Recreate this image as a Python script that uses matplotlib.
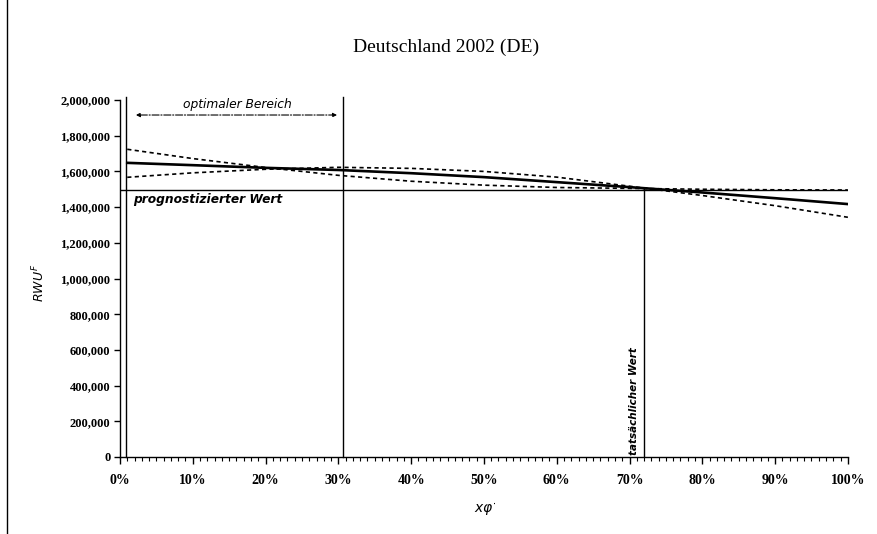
import matplotlib
matplotlib.use("Agg")
import matplotlib.pyplot as plt
from matplotlib.ticker import FuncFormatter, MultipleLocator

# Werte (x in %, y in Einheiten)
anteil = [1, 10, 20, 30, 40, 50, 60, 70, 80, 90, 100]
rwu_mitte = [1648000, 1635000, 1620000, 1608000, 1590000, 1568000, 1540000, 1512000, 1482000, 1450000, 1417000]
rwu_konvex = [1724000, 1672000, 1622000, 1578000, 1545000, 1523000, 1510000, 1505000, 1500000, 1497000, 1496000]
rwu_konkav = [1567000, 1592000, 1612000, 1623000, 1617000, 1600000, 1568000, 1517000, 1465000, 1408000, 1343000]

prognose = 1495000
optimal_von = 0.8
optimal_bis = 30.7
tatsaechlich = 72.0
tatsaechlich_wert = 1505000

fig = plt.figure(figsize=(8.77, 5.34), dpi=100)
ax = fig.add_axes([0.1368, 0.1442, 0.8300, 0.6685])

ax.plot(anteil, rwu_mitte, color="black", lw=1.9)
ax.plot(anteil, rwu_konvex, color="black", lw=1.2, linestyle=(0, (2.5, 2)))
ax.plot(anteil, rwu_konkav, color="black", lw=1.2, linestyle=(0, (2.5, 2)))

# prognostizierter Wert
ax.axhline(prognose, color="black", lw=1)
ax.text(1.8, 1445000, "prognostizierter Wert", fontsize=8.8, style="italic",
        fontweight="bold", ha="left", va="center")

# optimaler Bereich
ax.plot([optimal_von, optimal_von], [0, 2015000], color="black", lw=1, clip_on=False)
ax.plot([optimal_bis, optimal_bis], [0, 2015000], color="black", lw=1, clip_on=False)
ax.annotate("", xy=(1.8, 1916000), xytext=(30.2, 1916000),
            arrowprops=dict(arrowstyle="<|-|>", color="black", lw=0.8,
                            linestyle="-.", mutation_scale=6))
ax.text(16.1, 1977000, "optimaler Bereich", fontsize=8.8, style="italic",
        ha="center", va="center")

# tatsaechlicher Wert
ax.plot([tatsaechlich, tatsaechlich], [0, tatsaechlich_wert], color="black", lw=1)
ax.text(71.3, 12000, "tatsächlicher Wert", fontsize=7.5, style="italic",
        fontweight="bold", rotation=90, ha="right", va="bottom")

ax.set_xlim(0, 100)
ax.set_ylim(0, 2000000)
ax.xaxis.set_major_locator(MultipleLocator(10))
ax.xaxis.set_minor_locator(MultipleLocator(1))
ax.yaxis.set_major_locator(MultipleLocator(200000))
ax.xaxis.set_major_formatter(FuncFormatter(lambda v, p: "%d%%" % v))
ax.yaxis.set_major_formatter(FuncFormatter(lambda v, p: "{:,.0f}".format(v)))

for s in ["top", "right"]:
    ax.spines[s].set_visible(False)
for s in ["left", "bottom"]:
    ax.spines[s].set_linewidth(1)

ax.tick_params(axis="x", which="major", direction="out", length=5, width=1, pad=7)
ax.tick_params(axis="x", which="minor", direction="out", length=3, width=0.8)
ax.tick_params(axis="y", which="major", direction="out", length=4, width=1, pad=3)
for lab in ax.get_yticklabels():
    lab.set_fontfamily("Liberation Serif")
    lab.set_fontweight("bold")
    lab.set_fontsize(9)
for lab in ax.get_xticklabels():
    lab.set_fontfamily("Liberation Serif")
    lab.set_fontweight("bold")
    lab.set_fontsize(10)

fig.text(0.509, 0.912, "Deutschland 2002 (DE)", fontsize=14,
         family="Liberation Serif", ha="center", va="center")
fig.text(0.044, 0.470, r"$RWU^{F}$", fontsize=9, rotation=90,
         ha="center", va="center", family="Liberation Serif")
fig.text(0.553, 0.045, r"$x\varphi^{\cdot}$", fontsize=10,
         ha="center", va="center", family="Liberation Serif")

# linker Rahmen des Diagramms
fig.add_artist(plt.Line2D([0.008, 0.008], [0.0, 1.0], transform=fig.transFigure,
                          color="black", lw=1))

fig.savefig("out.png", dpi=100, facecolor="white")
